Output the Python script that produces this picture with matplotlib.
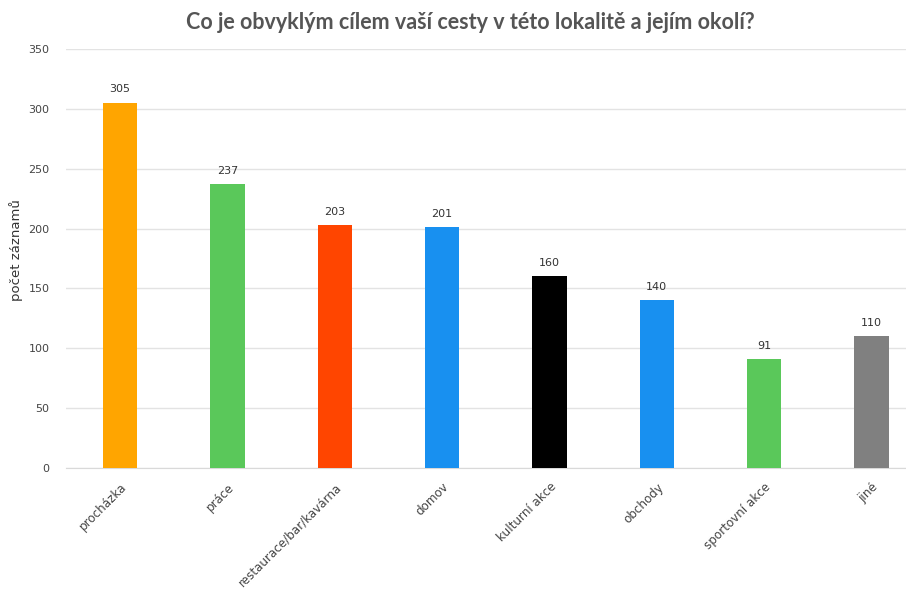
import matplotlib
matplotlib.use("Agg")
import matplotlib.pyplot as plt

categories = ["procházka", "práce", "restaurace/bar/kavárna", "domov",
              "kulturní akce", "obchody", "sportovní akce", "jiné"]
values = [305, 237, 203, 201, 160, 140, 91, 110]
colors = ["#FFA500", "#5AC85A", "#FF4500", "#1890F0", "#000000",
          "#1890F0", "#5AC85A", "#808080"]
yticks = [0, 50, 100, 150, 200, 250, 300, 350]

plt.rcParams['font.family'] = ['DejaVu Sans']

fig = plt.figure(figsize=(9.06, 5.92), dpi=100)
ax = fig.add_axes([66/906, (592-468)/592, 1-66/906, (468-49)/592])

x = list(range(len(categories)))
ax.bar(x, values, width=0.32, color=colors, zorder=3)
for xi, v in zip(x, values):
    ax.text(xi, v + 7, str(v), ha="center", va="bottom", fontsize=8, color="#333333")

ax.set_xlim(-0.503, 7.32)
ax.set_ylim(0, 350)
ax.set_yticks(yticks)
ax.set_yticklabels([str(t) for t in yticks], fontsize=8, color="#444444")
ax.set_xticks(x)
ax.set_xticklabels(categories, rotation=45, ha="right", rotation_mode="anchor",
                   fontsize=8.6, color="#444444")
ax.tick_params(axis="y", length=0, pad=12)
ax.tick_params(axis="x", length=0, pad=9)
ax.grid(axis="y", color="#e3e3e3", linewidth=1, zorder=0)
for s in ["top", "right", "left"]:
    ax.spines[s].set_visible(False)
ax.spines["bottom"].set_color("#d9d9d9")
ax.set_ylabel("počet záznamů", fontsize=9.5, color="#333333")
ax.yaxis.set_label_coords(-0.051, 0.52)

fig.text(470/906, 0.962, "Co je obvyklým cílem vaší cesty v této lokalitě a jejím okolí?",
         ha="center", va="center", fontsize=15.5, fontweight="bold", color="#555555",
         family=["Lato", "DejaVu Sans"])

fig.savefig("out.png", dpi=100)
